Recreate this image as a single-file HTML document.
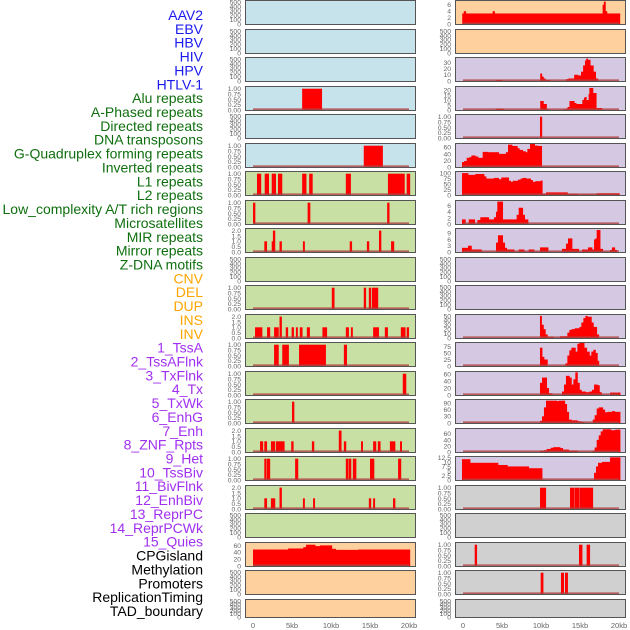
<!DOCTYPE html>
<html><head><meta charset="utf-8">
<style>
html,body{margin:0;padding:0;background:#fff;width:630px;height:630px;overflow:hidden}
svg{display:block}
text{font-family:"Liberation Sans",sans-serif}
</style></head>
<body>
<svg id="chart" width="630" height="630" viewBox="0 0 630 630"></svg>
<script>
const labelNames = ["AAV2","EBV","HBV","HIV","HPV","HTLV-1","Alu repeats","A-Phased repeats","Directed repeats","DNA transposons","G-Quadruplex forming repeats","Inverted repeats","L1 repeats","L2 repeats","Low_complexity A/T rich regions","Microsatellites","MIR repeats","Mirror repeats","Z-DNA motifs","CNV","DEL","DUP","INS","INV","1_TssA","2_TssAFlnk","3_TxFlnk","4_Tx","5_TxWk","6_EnhG","7_Enh","8_ZNF_Rpts","9_Het","10_TssBiv","11_BivFlnk","12_EnhBiv","13_ReprPC","14_ReprPCWk","15_Quies","CPGisland","Methylation","Promoters","ReplicationTiming","TAD_boundary"];
const labelGroups = [0,0,0,0,0,0,1,1,1,1,1,1,1,1,1,1,1,1,1,2,2,2,2,2,3,3,3,3,3,3,3,3,3,3,3,3,3,3,3,4,4,4,4,4];
const groupColors = ["#1a1aee","#0f6f0f","#ffa500","#a030f0","#000000"];
const xTickValues = [0,5,10,15,20];
const xTickLabels = ["0","5kb","10kb","15kb","20kb"];

// column 1 panels: [start kb, end kb, value]
const col1Bars = [
 [],[],[],
 [[6.3,8.8,1]],
 [],
 [[14.2,16.6,1]],
 [[0.51,1.0,1],[1.5,2.0,1],[2.4,2.9,1],[3.2,3.7,1],[6.3,6.8,1],[7.2,7.6,1],[11.9,12.5,1],[17.3,19.4,1],[19.7,20.1,1]],
 [[0.0,0.25,1],[7.0,7.3,1],[17.2,17.45,1]],
 [[1.45,1.75,1],[2.4,2.65,1],[2.55,2.8,2],[3.4,3.65,1],[6.4,6.6,1],[12.4,12.65,1],[14.6,14.85,1],[16.15,16.4,2],[17.7,18.05,1]],
 [],
 [[10.1,10.4,1],[14.2,14.45,1],[14.85,15.1,1],[15.25,16.0,1]],
 [[0.26,1.15,1],[1.8,2.15,1],[2.7,3.25,1],[3.4,3.65,2],[4.2,4.45,1],[4.95,5.2,1],[5.5,5.7,1],[6.0,6.3,1],[6.9,7.25,1],[8.9,9.45,1],[11.9,12.25,1],[12.55,12.75,1],[15.4,16.1,1],[16.9,17.25,1],[18.95,19.5,1],[19.7,19.95,1]],
 [[2.7,3.25,1],[3.75,4.55,1],[5.9,9.3,1],[11.65,12.0,1]],
 [[19.2,19.6,1]],
 [[5.0,5.25,1]],
 [[0.9,1.25,1],[1.45,1.75,1],[2.3,2.8,1],[2.95,4.0,1],[4.9,5.15,1],[7.55,7.8,1],[11.0,11.3,2],[11.65,11.9,1],[13.85,14.05,1],[15.4,15.75,1],[16.0,16.3,1],[17.55,18.2,1],[18.85,19.05,1]],
 [[1.45,1.65,1],[1.75,2.15,1],[5.4,5.75,1],[11.9,12.2,1],[12.3,12.55,1],[12.8,13.2,1],[15.0,15.5,1],[18.6,18.95,1]],
 [[1.45,1.75,1],[2.3,2.8,1],[3.4,3.65,2],[6.4,6.6,1],[7.7,7.9,1],[14.85,15.1,1],[15.4,15.6,1],[17.95,18.2,1]],
 [],
 [[0,1.7,48],[1.7,4.5,48],[4.5,6.45,51],[6.45,6.8,55],[6.8,7.95,62],[7.95,8.6,58],[8.6,10.1,60],[10.1,10.6,50],[10.6,13.5,47],[13.5,20.1,48]],
 [],[]
];
const col1YMax = [1,1,1,1.08,1,1.08,1.08,1.08,2.15,1,1.08,2.15,1.08,1.08,1.08,2.15,1.08,2.15,1,67,1,1];
const col1Ticks = [null,null,null,"u1",null,"u1","u1","u1","u2",null,"u1","u2","u1","u1","u1","u2","u1","u2",null,[0,20,40,60],null,null];
const col1Bg = ["#c6e2ea","#c6e2ea","#c6e2ea","#c6e2ea","#c6e2ea","#c6e2ea","#c8e0a4","#c8e0a4","#c8e0a4","#c8e0a4","#c8e0a4","#c8e0a4","#c8e0a4","#c8e0a4","#c8e0a4","#c8e0a4","#c8e0a4","#c8e0a4","#c8e0a4","#fdd09e","#fdd09e","#fdd09e"];

// column 2 panels
const col2Bars = [
 [[-0.1,0.1,3.3],[0.1,0.35,4],[0.35,3.8,3.3],[3.8,4.05,4],[4.05,17.9,3.3],[17.9,18.05,6],[18.05,18.25,7],[18.25,18.4,4],[18.4,20.1,3.3]],
 [],
 [[4.2,5.0,1.5],[9.9,10.1,12],[10.1,10.3,7],[10.3,10.55,4],[10.55,11.15,1.5],[13.2,13.5,3],[13.5,14.25,4],[14.25,14.7,10],[14.7,15.13,9],[15.13,15.4,15],[15.4,15.64,25],[15.64,15.8,33],[15.8,16.0,36],[16.0,16.3,34],[16.3,16.7,25],[16.7,17.0,15],[17.0,17.27,4]],
 [[4.2,5.15,1.5],[9.9,10.3,9],[10.3,10.7,6],[10.7,10.9,1],[13.1,13.4,1.5],[13.4,13.65,3],[13.65,14.25,9],[14.25,14.5,7],[14.5,15.3,6],[15.3,15.5,10],[15.5,15.6,12],[15.6,15.8,13],[15.8,16.1,10],[16.1,16.2,16],[16.2,16.65,22],[16.65,17.07,17],[17.07,17.8,2]],
 [[9.87,10.1,1]],
 [[-0.13,0.13,15],[0.13,0.47,18],[0.47,0.81,28],[0.81,1.07,30],[1.07,1.58,35],[1.58,1.92,32],[1.92,2.52,28],[2.52,3.2,46],[3.2,4.57,45],[4.57,5.5,40],[5.5,5.77,45],[5.77,6.28,68],[6.28,6.96,64],[6.96,7.22,57],[7.22,7.65,52],[7.65,7.99,48],[7.99,8.25,45],[8.25,8.59,55],[8.59,9.18,70],[9.18,9.61,65],[9.61,10.08,64]],
 [[-0.13,0.64,100],[0.64,1.58,92],[1.58,2.69,96],[2.69,2.95,85],[2.95,3.97,75],[3.97,4.57,78],[4.57,4.91,72],[4.91,5.85,80],[5.85,6.11,65],[6.11,6.37,60],[6.37,7.05,65],[7.05,7.39,70],[7.39,7.65,75],[7.65,8.08,78],[8.08,8.67,75],[8.67,8.93,68],[8.93,9.27,60],[9.27,9.96,63],[9.96,10.13,66],[10.13,10.64,6],[10.64,13.38,12],[13.38,14.66,6],[14.66,17.14,2],[17.14,20.04,8]],
 [[-0.13,0.3,1.5],[0.73,1.5,1.5],[1.84,2.22,1.3],[2.22,3.29,2.2],[3.29,3.97,1.5],[3.97,4.23,2.2],[4.23,4.4,4],[4.4,5.08,7.3],[5.08,6.62,1.5],[6.62,6.88,1.5],[6.88,7.14,3],[7.14,7.65,5.3],[7.65,7.9,3],[7.9,8.33,1.5]],
 [[-0.13,0.64,2],[0.64,1.07,3],[1.07,2.35,1.2],[4.23,4.48,4.5],[4.48,5.08,8],[5.08,5.34,4.5],[5.34,5.6,2],[5.6,6.54,1.2],[7.14,7.82,1.2],[8.42,9.1,1.2],[9.87,10.9,2.2],[12.69,13.2,1.5],[13.2,13.46,4],[13.46,13.97,6.5],[13.97,14.83,1.5],[15.26,16.03,1.2],[16.03,16.54,2.2],[16.54,16.8,1.2],[16.8,16.97,6],[16.97,17.14,6.5],[17.14,17.57,10.5],[17.57,17.91,1.5],[18.85,19.1,1],[19.1,19.45,2.2],[19.45,19.7,1]],
 [],[],
 [[9.87,10.04,50],[10.04,10.3,30],[10.3,10.55,20],[10.55,10.81,8],[10.81,11.58,3],[12.44,13.38,4],[13.38,13.63,12],[13.63,13.89,18],[13.89,14.32,20],[14.32,14.92,22],[14.92,15.17,25],[15.17,15.43,35],[15.43,15.69,45],[15.69,15.94,50],[15.94,16.45,48],[16.45,16.71,35],[16.71,17.14,25],[17.14,17.4,8]],
 [[9.87,10.13,70],[10.13,10.38,35],[10.38,10.81,25],[13.12,13.38,10],[13.38,13.63,40],[13.63,13.89,60],[13.89,14.4,70],[14.4,14.66,55],[14.66,14.92,85],[14.92,15.52,88],[15.52,15.86,70],[15.86,16.2,55],[16.2,16.45,40],[16.45,16.71,55],[16.71,16.97,62],[16.97,17.22,50],[17.22,17.4,20]],
 [[9.87,10.13,35],[10.13,10.72,50],[10.72,10.98,20],[10.98,11.41,5],[12.69,12.95,10],[12.95,13.2,30],[13.2,13.63,55],[13.63,13.89,50],[13.89,14.15,30],[14.15,14.4,45],[14.4,14.66,65],[14.66,14.92,35],[14.92,15.17,15],[15.17,15.69,10],[15.69,16.2,8],[16.2,16.54,10],[16.54,16.8,15],[16.8,17.22,30],[17.22,17.48,28],[17.48,17.74,8],[18.85,20.13,7]],
 [[9.87,10.13,10],[10.13,10.38,30],[10.38,10.64,70],[10.64,12.0,100],[12.0,12.27,98],[12.27,13.04,100],[13.04,13.29,85],[13.29,13.55,50],[13.55,13.89,15],[13.89,14.66,12],[14.66,15.09,8],[15.09,15.52,5],[16.63,16.88,15],[16.88,17.14,35],[17.14,17.4,65],[17.4,17.91,70],[17.91,18.17,60],[18.17,18.51,48],[18.51,19.1,50],[19.1,19.45,53],[19.45,20.13,50]],
 [[9.87,10.38,4],[10.38,10.72,6],[10.72,11.24,10],[11.24,11.58,14],[11.58,12.44,16],[12.44,12.78,13],[12.78,13.55,8],[13.55,14.66,5],[16.63,16.88,5],[16.88,17.14,15],[17.14,17.4,40],[17.4,17.65,55],[17.65,17.91,68],[17.91,18.94,75],[18.94,19.53,72],[19.53,20.13,74]],
 [[-0.13,0.9,11.5],[0.9,4.48,9.5],[4.48,5.68,8.3],[5.68,8.42,7.5],[8.42,10.13,6.5],[16.8,17.05,4],[17.05,17.31,7.5],[17.31,17.82,9.5],[17.82,18.85,10],[18.85,20.13,12.5]],
 [[9.87,10.6,1],[13.72,14.23,1],[14.32,14.87,1],[14.96,16.63,1]],
 [],
 [[1.5,1.75,1],[14.87,15.26,1],[15.85,16.24,1]],
 [[9.96,10.26,1],[12.56,12.9,1],[13.08,13.4,1]],
 []
];
const col2YMax = [7.2,1,37,23,1.08,70,105,7.5,11,1,1,52,88,66,103,76,12.7,1.08,1,1.08,1.08,1];
const col2Ticks = [[0,2,4,6],null,[0,10,20,30],[0,5,10,15,20],"u1",[0,20,40,60],[0,25,50,75,100],[0,2,4,6],[0,3,6,9],null,null,[0,10,20,30,40,50],[0,25,50,75],[0,20,40,60],[0,30,60,90],[0,20,40,60],[0,2.5,5,7.5,10,12.5],"u1",null,"u1","u1",null];
const col2Bg = ["#fdd09e","#fdd09e","#d5c8e2","#d5c8e2","#d5c8e2","#d5c8e2","#d5c8e2","#d5c8e2","#d5c8e2","#d5c8e2","#d5c8e2","#d5c8e2","#d5c8e2","#d5c8e2","#d5c8e2","#d5c8e2","#d5c8e2","#d0d0d0","#d0d0d0","#d0d0d0","#d0d0d0","#d0d0d0"];

const NS = "http://www.w3.org/2000/svg";
const svg = document.getElementById("chart");
function mk(tag, attrs, parent){const e=document.createElementNS(NS,tag);for(const k in attrs)e.setAttribute(k,attrs[k]);(parent||svg).appendChild(e);return e;}

labelNames.forEach((n,i)=>{
  const t=mk("text",{x:203,y:(15+i*13.86+5).toFixed(1),"text-anchor":"end","font-size":"14",fill:groupColors[labelGroups[i]]});
  
  
  t.textContent=n;
});

const rowTops=[];for(let r=0;r<22;r++)rowTops.push(Math.round(r*28.52));
const cols=[{x0:245,x1:416,zero:253,bars:col1Bars,ymax:col1YMax,ticks:col1Ticks,bg:col1Bg},{x0:455,x1:626,zero:463,bars:col2Bars,ymax:col2YMax,ticks:col2Ticks,bg:col2Bg}];
const kbScale=7.8;

function fmt(v,ticks){
  if(ticks==="u1") return v.toFixed(2);
  if(ticks==="u2") return v.toFixed(1);
  return String(v);
}

cols.forEach((c,ci)=>{
  const xOf=kb=>c.zero+kb*kbScale;
  for(let r=0;r<22;r++){
    const top=rowTops[r]+1, h=(r===21?17:23), bottom=top+h;
    const g=mk("g",{});
    
    
    mk("rect",{x:c.x0,y:top,width:c.x1-c.x0,height:h,fill:c.bg[r]},g);
    const ymax=c.ymax[r];
    const yOf=v=>bottom-v/ymax*h;
    const bars=c.bars[r];
    bars.forEach(b=>{
      const x=xOf(b[0]), w=Math.max(1.5,(b[1]-b[0])*kbScale)+0.4;
      const rc=mk("rect",{x:x.toFixed(2),y:yOf(b[2]).toFixed(2),width:w.toFixed(2),height:(bottom-yOf(b[2])).toFixed(2),fill:"#ff0000"},g);
      
      
    });
    if(bars.length){
      const bl=mk("line",{x1:xOf(0),x2:xOf(20),y1:bottom-0.8,y2:bottom-0.8,stroke:"#b04040","stroke-width":"1.6","stroke-opacity":"0.8"},g);
      
      
    }
    mk("rect",{x:c.x0+0.5,y:top-0.5,width:c.x1-c.x0-1,height:h+1,fill:"none",stroke:"#555","stroke-width":"1"},g);
    let tk=c.ticks[r], vals;
    if(tk===null){
      vals=[0,100,200,300,400,500];
      vals.forEach((v,k)=>{
        const y=bottom-k*(h-1)/5;
        const t=mk("text",{x:c.x0-4,y:(y+2.4).toFixed(1),"text-anchor":"end","font-size":"6.8",fill:"#666"},g);
        
        
        t.textContent=String(v);
      });
      continue;
    }
    if(tk==="u1") vals=[0,0.25,0.5,0.75,1.0];
    else if(tk==="u2") vals=[0,0.5,1.0,1.5,2.0];
    else vals=tk;
    vals.forEach(v=>{
      const y=yOf(v);
      const t=mk("text",{x:c.x0-4,y:(y+2.4).toFixed(1),"text-anchor":"end","font-size":"6.8",fill:"#666"},g);
      
      
      t.textContent=fmt(v,tk);
    });
  }
  xTickValues.forEach((v,k)=>{
    const t=mk("text",{x:xOf(v),y:628,"text-anchor":"middle","font-size":"7.5",fill:"#666"});
    
    
    t.textContent=xTickLabels[k];
  });
});
</script>
</body></html>
